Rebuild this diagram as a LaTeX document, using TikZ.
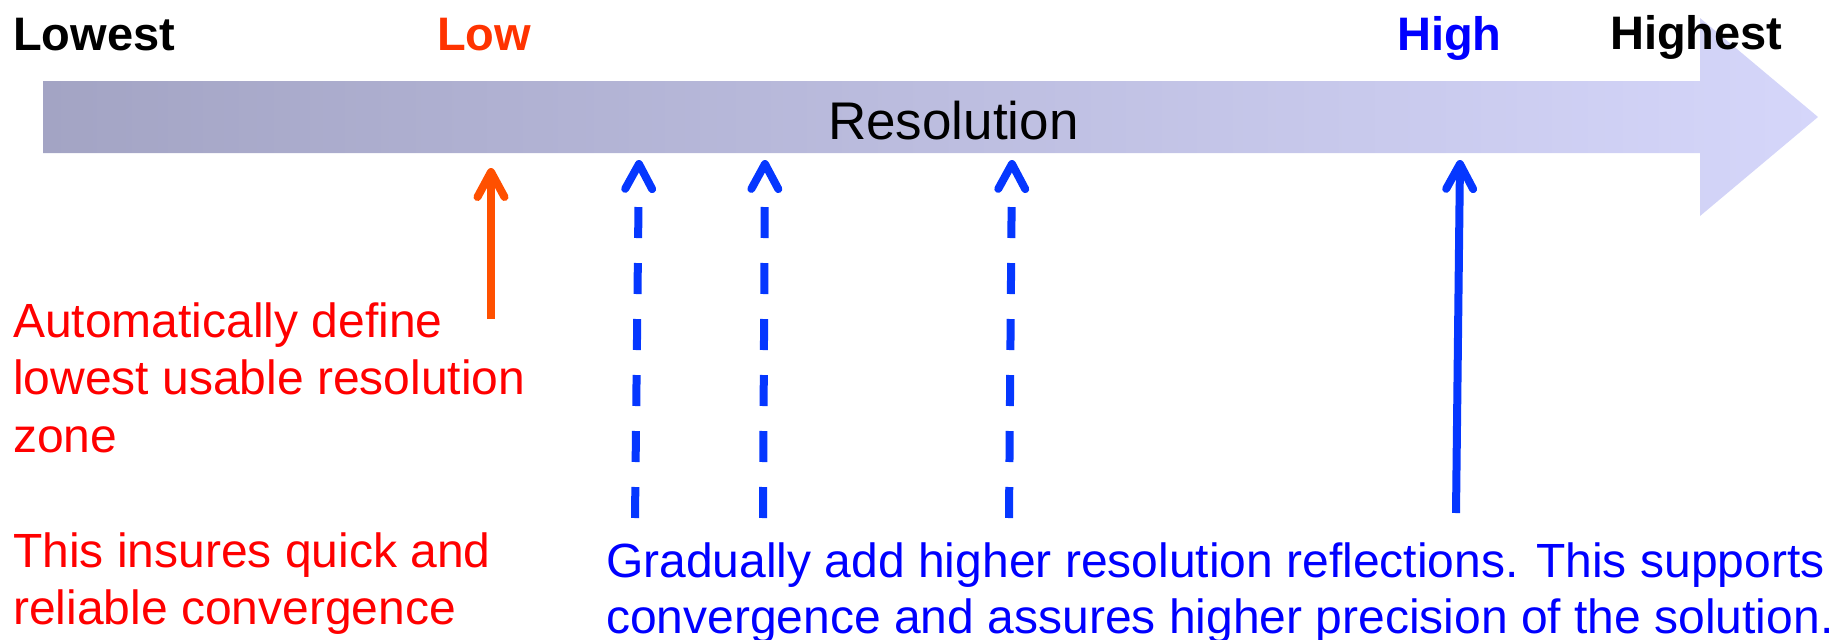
\documentclass[tikz,border=0pt]{standalone}
\usepackage{fontspec}
\setmainfont{Liberation Sans}
\usetikzlibrary{arrows.meta}
\definecolor{barL}{RGB}{163,164,196}
\definecolor{barR}{RGB}{213,214,250}
\definecolor{lowc}{RGB}{255,51,0}
\definecolor{orarrow}{RGB}{255,80,0}
\definecolor{redtxt}{RGB}{255,0,0}
\definecolor{bluetxt}{RGB}{0,0,255}
\definecolor{bluearrow}{RGB}{5,55,255}
\begin{document}
\begin{tikzpicture}[x=1pt,y=-1pt,
  lbl/.style={inner sep=0pt, anchor=base west, font=\fontsize{47}{56}\selectfont\bfseries},
  txt/.style={inner sep=0pt, anchor=base west, align=left},
  pointer/.style={line width=8pt, -{Straight Barb[length=25pt,width=27pt,line cap=round,line join=round]}},
  dashedptr/.style={pointer, dash pattern=on 31pt off 25pt on 31pt off 25pt on 31pt off 25pt on 31pt off 25pt on 31pt off 25pt on 31pt off 300pt}]
\useasboundingbox (0,0) rectangle (1837,640);
% scale arrow
\shade[left color=barL, right color=barR]
  (43,81) -- (1700,81) -- (1700,18) -- (1818,117) -- (1700,216) -- (1700,153) -- (43,153) -- cycle;
\node[inner sep=0pt, anchor=base west, font=\fontsize{53}{60}\selectfont] (res) at (828,139) {Resolution};
% labels
\node[lbl] (lowest) at (13,50) {Lowest};
\node[lbl, text=lowc] (low) at (437,50) {Low};
\node[lbl, text=bluetxt] (high) at (1397,50) {High};
\node[lbl] (highest) at (1610,49) {Highest};
% pointer coordinates
\coordinate (o1) at (491,319); \coordinate (o2) at (491,168);
\coordinate (d1a) at (635,518); \coordinate (d1b) at (639,160);
\coordinate (d2a) at (763,518); \coordinate (d2b) at (765,160);
\coordinate (d3a) at (1009,518); \coordinate (d3b) at (1012,160);
\coordinate (h1) at (1456,513); \coordinate (h2) at (1460,160);
\draw[pointer, draw=orarrow] (o1) -- (o2);
\draw[dashedptr, draw=bluearrow] (d1a) -- (d1b);
\draw[dashedptr, draw=bluearrow] (d2a) -- (d2b);
\draw[dashedptr, draw=bluearrow] (d3a) -- (d3b);
\draw[pointer, draw=bluearrow] (h1) -- (h2);
% texts (base anchor = baseline of last line)
\node[txt, text=redtxt, font=\fontsize{48}{57.5}\selectfont] (redtext) at (13,624.5)
  {Automatically define\\lowest usable resolution\\zone\\[57.5pt]This insures quick and\\reliable convergence};
\node[txt, text=bluetxt, font=\fontsize{48}{56}\selectfont] (bluetext) at (606,633)
  {Gradually add higher resolution reflections. This supports\\convergence and assures higher precision of the solution.};
\end{tikzpicture}
\end{document}
